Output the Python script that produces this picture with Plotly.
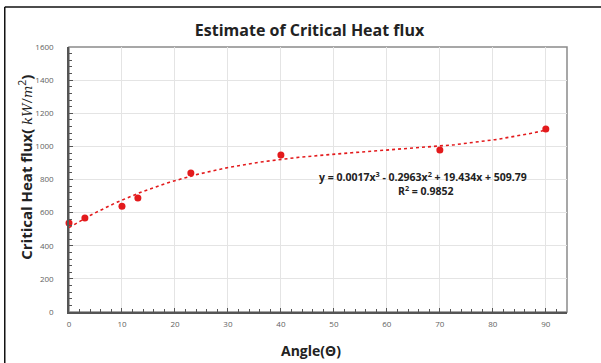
import numpy as np
import plotly.graph_objects as go

angle = [0, 3, 10, 13, 23, 40, 70, 90]
chf = [538, 567, 638, 688, 840, 948, 978, 1105]
trend_coeffs = [0.0017, -0.2963, 19.434, 509.79]  # cubic, highest power first
x_ticks = [0, 10, 20, 30, 40, 50, 60, 70, 80, 90]
y_ticks = [0, 200, 400, 600, 800, 1000, 1200, 1400, 1600]

xt = np.linspace(0, 90, 200)
yt = np.polyval(trend_coeffs, xt)

red = "#e31a1c"
fig = go.Figure()
fig.add_trace(go.Scatter(x=xt, y=yt, mode="lines",
                         line=dict(color=red, width=1.6, dash="dot"),
                         hoverinfo="skip", showlegend=False))
fig.add_trace(go.Scatter(x=angle, y=chf, mode="markers", cliponaxis=False,
                         marker=dict(color=red, size=7),
                         showlegend=False))

tick_font = dict(family="Open Sans, sans-serif", size=8, color="#5f5f5f")
fig.update_xaxes(range=[0, 94], tickvals=x_ticks, ticktext=[str(v) for v in x_ticks],
                 automargin=False,
                 showgrid=True, gridcolor="#e4e4e4", gridwidth=1,
                 showline=True, linecolor="#555555", linewidth=1.5, mirror=False,
                 ticks="inside", ticklen=4, tickcolor="#555555",
                 minor=dict(dtick=2, ticks="inside", ticklen=3, tickcolor="#555555", showgrid=False),
                 tickfont=tick_font, zeroline=False, ticklabelstandoff=4)
fig.update_yaxes(range=[0, 1600], tickvals=y_ticks, ticktext=[str(v) for v in y_ticks],
                 automargin=False,
                 showgrid=True, gridcolor="#e4e4e4", gridwidth=1,
                 showline=True, linecolor="#555555", linewidth=1.5,
                 ticks="inside", ticklen=4, tickcolor="#555555",
                 minor=dict(dtick=40, ticks="inside", ticklen=3, tickcolor="#555555", showgrid=False),
                 tickfont=tick_font, zeroline=False, ticklabelstandoff=12)

title_font = dict(family="Open Sans, sans-serif", size=14, color="#222222")
# axis titles
fig.add_annotation(xref="paper", yref="paper", x=0.486, y=-0.145, yanchor="middle",
                   showarrow=False, text="<b>Angle(Θ)</b>", font=title_font)
fig.add_annotation(xref="paper", yref="paper", x=-0.088, y=0.545, xanchor="center", yanchor="middle",
                   textangle=-90, showarrow=False,
                   text="<b>Critical Heat flux(</b> <span style=\"font-family:DejaVu Serif;font-style:italic;font-size:13px\">kW</span>/<span style=\"font-family:DejaVu Serif;font-style:italic;font-size:13px\">m</span><sup>2</sup><b>)</b>",
                   font=dict(family="Open Sans, sans-serif", size=15, color="#222222"))

eq_font = dict(family="Open Sans, sans-serif", size=10.5, color="#222222")
fig.add_annotation(x=66.8, y=820, xref="x", yref="y", showarrow=False,
                   text="<b>y = 0.0017x<sup>3</sup> - 0.2963x<sup>2</sup> + 19.434x + 509.79</b>",
                   font=eq_font)
fig.add_annotation(x=67.3, y=735, xref="x", yref="y", showarrow=False,
                   text="<b>R<sup>2</sup> = 0.9852</b>", font=eq_font)

# plot-area border (top/right)
fig.add_shape(type="rect", xref="paper", yref="paper", x0=0, y0=0, x1=1, y1=1,
              line=dict(color="#8a8a8a", width=1.5), layer="below")
# chart outer frame lines (top and left)
fig.add_shape(type="line", xref="paper", yref="paper", x0=-0.129, x1=1.1, y0=1.151, y1=1.151,
              line=dict(color="#111111", width=1.5))
fig.add_shape(type="line", xref="paper", yref="paper", x0=-0.129, x1=-0.129, y0=1.151, y1=-0.2,
              line=dict(color="#111111", width=1.5))

fig.update_layout(width=601, height=363,
                  margin=dict(l=69, r=34, t=47, b=51),
                  paper_bgcolor="white", plot_bgcolor="white",
                  title=dict(text="<b>Estimate of Critical Heat flux</b>", x=0.515, xanchor="center",
                             y=0.917, yanchor="middle",
                             font=dict(family="Open Sans, sans-serif", size=16, color="#222222")))
fig.write_html("out.html", config={"displayModeBar": False},
               post_script="document.body.style.margin='0';document.body.style.overflow='hidden';")
